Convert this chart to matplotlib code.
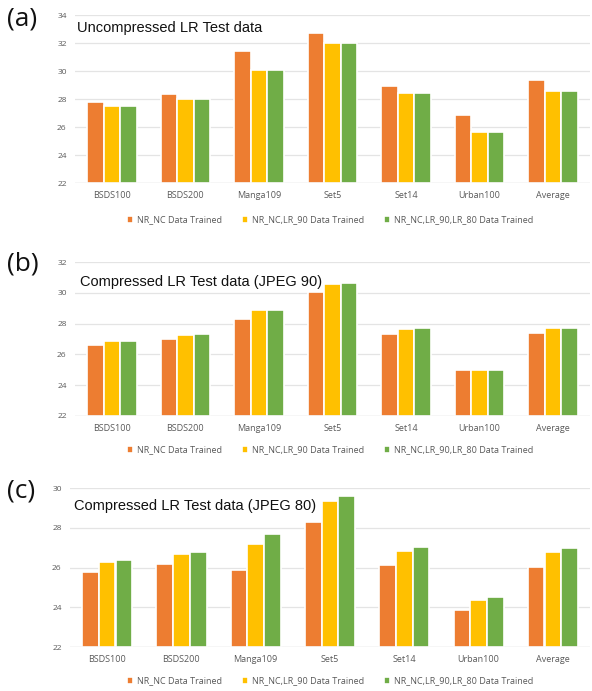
import numpy as np
import matplotlib
matplotlib.use("Agg")
import matplotlib.pyplot as plt

# data
categories = ["BSDS100", "BSDS200", "Manga109", "Set5", "Set14", "Urban100", "Average"]
series_names = ["NR_NC Data Trained", "NR_NC,LR_90 Data Trained", "NR_NC,LR_90,LR_80 Data Trained"]
colors = ["#ED7D31", "#FFC000", "#70AD47"]

a_nc = [27.80, 28.36, 31.45, 32.68, 28.95, 26.86, 29.36]
a_lr90 = [27.50, 27.98, 30.06, 31.98, 28.41, 25.66, 28.59]
a_lr80 = [27.50, 27.98, 30.05, 31.98, 28.41, 25.66, 28.59]

b_nc = [26.59, 27.02, 28.32, 30.05, 27.35, 24.97, 27.39]
b_lr90 = [26.85, 27.28, 28.86, 30.59, 27.67, 24.98, 27.71]
b_lr80 = [26.89, 27.31, 28.90, 30.66, 27.69, 25.00, 27.74]

c_nc = [25.78, 26.18, 25.89, 28.27, 26.14, 23.88, 26.03]
c_lr90 = [26.26, 26.66, 27.20, 29.33, 26.85, 24.35, 26.78]
c_lr80 = [26.36, 26.78, 27.70, 29.58, 27.02, 24.50, 27.00]

panels = [
    ("(a)", "Uncompressed LR Test data", [a_nc, a_lr90, a_lr80], (22, 34), 2),
    ("(b)", "Compressed LR Test data (JPEG 90)", [b_nc, b_lr90, b_lr80], (22, 32), 2),
    ("(c)", "Compressed LR Test data (JPEG 80)", [c_nc, c_lr90, c_lr80], (22, 30), 2),
]

W, H = 592, 691
fig = plt.figure(figsize=(W / 100, H / 100), dpi=100)

# axes boxes in pixels: (left, top, right, bottom)
boxes = [(75, 15, 590, 183), (75, 262, 590, 416), (70, 488, 590, 647)]
title_pos = [(77, 28), (80, 282), (74, 506)]
label_pos = [(7, 19), (7, 264), (7, 491)]
legend_y = [220, 450, 681]

x = np.arange(len(categories))
width = 0.225
tick_font = "Open Sans"

for (lab, title, data, ylim, step), (l, t, r, b), tp, lp, ly in zip(
        panels, boxes, title_pos, label_pos, legend_y):
    ax = fig.add_axes([l / W, 1 - b / H, (r - l) / W, (b - t) / H])
    handles = []
    for i, (vals, col, name) in enumerate(zip(data, colors, series_names)):
        h = ax.bar(x + (i - 1) * width, np.array(vals) - ylim[0], width,
                   bottom=ylim[0], color=col, edgecolor="white", linewidth=1.2,
                   label=name, zorder=3)
        handles.append(h)
    ax.set_xlim(-0.5, len(categories) - 0.5)
    ax.set_ylim(*ylim)
    ax.set_yticks(np.arange(ylim[0], ylim[1] + 0.1, step))
    ax.set_xticks(x)
    ax.set_xticklabels(categories, fontsize=6.5, color="#595959", family=tick_font)
    for tl in ax.get_yticklabels():
        tl.set_fontsize(6)
        tl.set_color("#595959")
        tl.set_family(tick_font)
    ax.tick_params(length=0, pad=6)
    ax.grid(axis="y", color="#E4E4E4", linewidth=0.9, zorder=0)
    for s in ax.spines.values():
        s.set_visible(False)
    ax.axhline(ylim[0], color="#D9D9D9", linewidth=0.9, zorder=4)

    fig.text(tp[0] / W, 1 - tp[1] / H, title, fontsize=10.5, family="Liberation Sans",
             va="center", ha="left", color="#111111")
    fig.text(lp[0] / W, 1 - lp[1] / H, lab, fontsize=19, family="Open Sans",
             va="center", ha="left", color="#111111")

    fig.legend(handles=handles, loc="center", bbox_to_anchor=(330 / W, 1 - ly / H),
               ncol=3, frameon=False, handlelength=0.7, handleheight=0.7,
               columnspacing=2.2, handletextpad=0.4,
               prop={"family": tick_font, "size": 6.5})
    leg = fig.legends[-1]
    for txt in leg.get_texts():
        txt.set_color("#595959")

fig.savefig("out.png", dpi=100)
